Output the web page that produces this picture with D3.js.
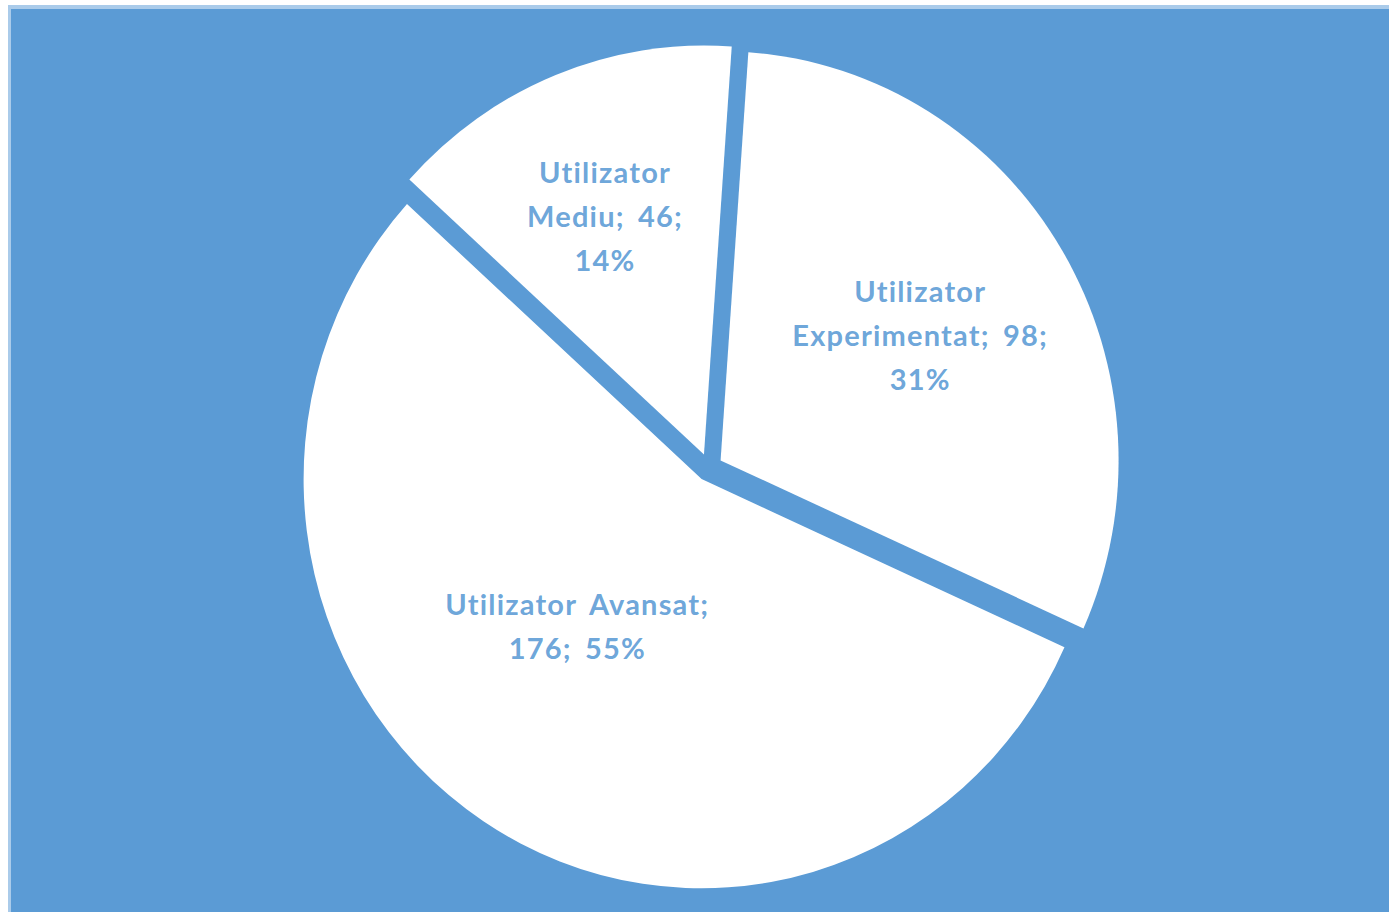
<!DOCTYPE html>
<html>
<head>
<meta charset="utf-8">
<script src="https://cdn.jsdelivr.net/npm/d3@7/dist/d3.min.js"></script>
<style>
  html, body { margin: 0; padding: 0; background: #ffffff; }
  svg { display: block; }
</style>
</head>
<body>
<svg id="chart" width="1389" height="912"></svg>
<script>
// ---- data ----
const categories = ["Utilizator Experimentat", "Utilizator Avansat", "Utilizator Mediu"];
const values = [98, 176, 46];
// word index where each label line ends
const labelBreaks = [[1, 3, 4], [2, 4], [1, 3, 4]];

// ---- layout ----
const W = 1389, H = 912;
const cx = 709, cy = 467.5;
const R = 398;
const yStretch = 1.028;
const explode = 13.5;
const startDeg = 4;
// label placement: fraction of radius and angle nudge (deg)
const labelPlace = [
  { r: 0.589, da: -0.7 },
  { r: 0.474, da: 7.4 },
  { r: 0.635, da: -1.1 }
];
const blue = "#5B9BD5";
const lightBlue = "#AACBEA";

const svg = d3.select("#chart");

svg.append("rect").attr("x", 8).attr("y", 5).attr("width", W - 8).attr("height", H - 5).attr("fill", lightBlue);
svg.append("rect").attr("x", 11).attr("y", 9).attr("width", W - 11).attr("height", H - 9).attr("fill", blue);

const total = d3.sum(values);
const data = categories.map((c, i) => ({ name: c, value: values[i] }));

const pie = d3.pie()
  .sort(null)
  .value(d => d.value)
  .startAngle(startDeg * Math.PI / 180)
  .endAngle(startDeg * Math.PI / 180 + 2 * Math.PI);

const arcs = pie(data);
const arc = d3.arc().innerRadius(0).outerRadius(R);

const g = svg.append("g").attr("transform", `translate(${cx},${cy}) scale(1,${yStretch})`);

g.selectAll("path.slice")
  .data(arcs)
  .join("path")
  .attr("class", "slice")
  .attr("d", arc)
  .attr("fill", "#ffffff")
  .attr("transform", d => {
    const m = (d.startAngle + d.endAngle) / 2;
    return `translate(${explode * Math.sin(m)},${-explode * Math.cos(m)})`;
  });

// labels
const lineH = 44;
arcs.forEach((d, i) => {
  const m = (d.startAngle + d.endAngle) / 2 + labelPlace[i].da * Math.PI / 180;
  const rr = R * labelPlace[i].r + explode;
  const lx = cx + rr * Math.sin(m);
  const ly = cy - rr * Math.cos(m) * yStretch;
  const pct = Math.round(d.data.value / total * 100);
  const words = `${d.data.name}; ${d.data.value}; ${pct}%`.split(" ");
  const lines = [];
  let s = 0;
  labelBreaks[i].forEach(e => { lines.push(words.slice(s, e).join(" ")); s = e; });
  const t = svg.append("text")
    .attr("text-anchor", "middle")
    .attr("font-family", "Lato, 'Open Sans', sans-serif")
    .attr("font-weight", "bold")
    .attr("font-size", 29)
    .attr("letter-spacing", 1.2)
    .attr("word-spacing", 5)
    .attr("fill", blue)
    .attr("fill-opacity", 0.9);
  lines.forEach((ln, k) => {
    t.append("tspan")
      .attr("x", lx)
      .attr("y", ly + (k - (lines.length - 1) / 2) * lineH)
      .attr("dominant-baseline", "central")
      .text(ln);
  });
});
</script>
</body>
</html>
